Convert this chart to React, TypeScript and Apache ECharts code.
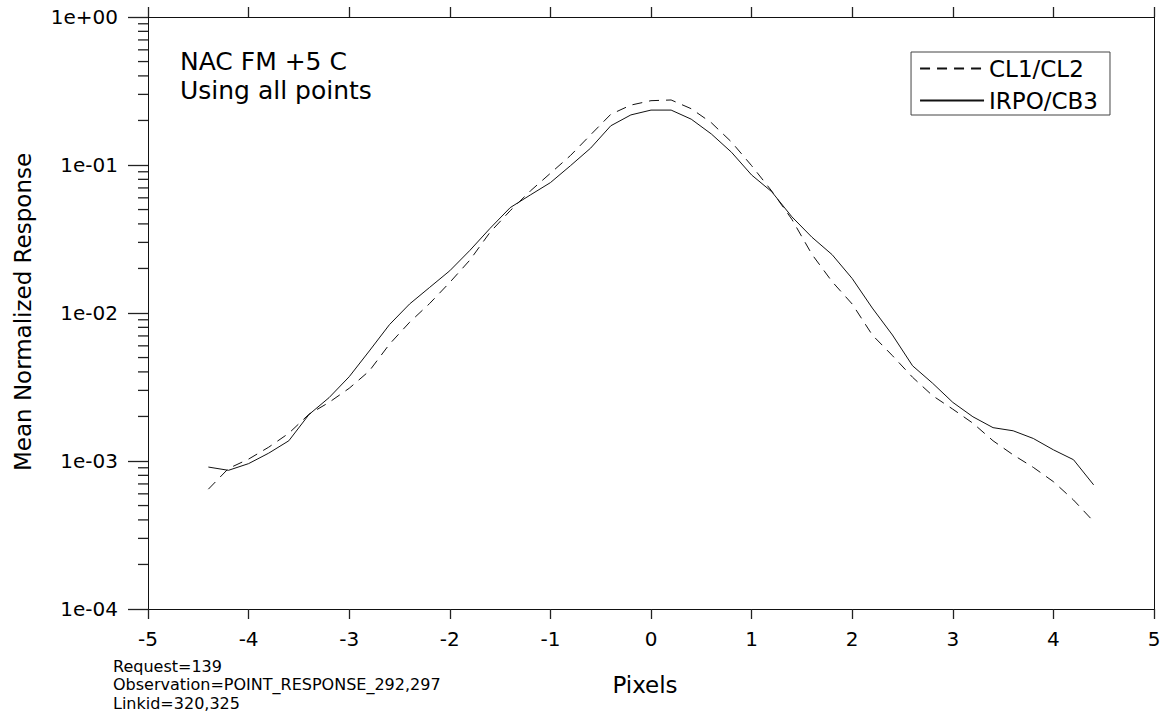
import React, { useEffect, useRef } from "react";
import * as echarts from "echarts";

const xValues = [
  -4.4, -4.2, -4.0, -3.8, -3.6, -3.4, -3.2, -3.0, -2.8, -2.6, -2.4, -2.2, -2.0,
  -1.8, -1.6, -1.4, -1.2, -1.0, -0.8, -0.6, -0.4, -0.2, 0.0, 0.2, 0.4, 0.6, 0.8,
  1.0, 1.2, 1.4, 1.6, 1.8, 2.0, 2.2, 2.4, 2.6, 2.8, 3.0, 3.2, 3.4, 3.6, 3.8, 4.0,
  4.2, 4.4,
];

const cl1Values = [
  0.000645, 0.00089, 0.00103, 0.00124, 0.00154, 0.00207, 0.00249, 0.0031,
  0.00406, 0.00615, 0.00865, 0.0116, 0.0161, 0.0228, 0.0351, 0.0491, 0.0667,
  0.0879, 0.116, 0.16, 0.22, 0.254, 0.272, 0.275, 0.24, 0.193, 0.143, 0.099,
  0.0667, 0.043, 0.0249, 0.0163, 0.0115, 0.0071, 0.00515, 0.00368, 0.00276,
  0.00224, 0.0018, 0.00137, 0.0011, 0.000906, 0.000725, 0.000545, 0.00039,
];

const irpoValues = [
  0.00091, 0.000865, 0.00096, 0.00113, 0.00137, 0.00206, 0.00268, 0.00371,
  0.00554, 0.00834, 0.0115, 0.0149, 0.0193, 0.0265, 0.0373, 0.0515, 0.0627,
  0.076, 0.099, 0.13, 0.184, 0.218, 0.235, 0.235, 0.204, 0.162, 0.122, 0.0856,
  0.066, 0.0447, 0.0325, 0.0248, 0.0171, 0.0108, 0.0071, 0.0044, 0.00335,
  0.00249, 0.00199, 0.00168, 0.0016, 0.00142, 0.00119, 0.00102, 0.00069,
];

const seriesNames = ["CL1/CL2", "IRPO/CB3"];
const yTickLabels = ["1e-04", "1e-03", "1e-02", "1e-01", "1e+00"];
const minorMultipliers = [2, 3, 4, 5, 6, 7, 8, 9];
const minorDecades = [1e-4, 1e-3, 1e-2, 1e-1];
const annotationLines = ["NAC FM +5 C", "Using all points"];
const footerLines = [
  "Request=139",
  "Observation=POINT_RESPONSE_292,297",
  "Linkid=320,325",
];
const xAxisTitle = "Pixels";
const yAxisTitle = "Mean Normalized Response";

const FONT = "'DejaVu Sans', sans-serif";
const INK = "#111";
const TICK_W = 1.3;

export default function App() {
  const ref = useRef<HTMLDivElement>(null);

  useEffect(() => {
    if (!ref.current) return;
    const chart = echarts.init(ref.current, undefined, { renderer: "svg" });

    const minorTickData: number[][] = [];
    minorDecades.forEach((d) =>
      minorMultipliers.forEach((m) => minorTickData.push([-5, m * d]))
    );

    const option: any = {
      animation: false,
      grid: { left: 148, top: 17, right: 12, bottom: 108 },
      xAxis: [
        {
          type: "value",
          min: -5,
          max: 5,
          interval: 1,
          position: "bottom",
          axisLine: { show: true, onZero: false, lineStyle: { color: INK, width: 1 } },
          axisTick: { show: true, length: 10, lineStyle: { color: "#222", width: TICK_W } },
          axisLabel: { fontFamily: FONT, fontSize: 20, color: "#000", margin: 20 },
          splitLine: { show: false },
        },
        {
          type: "value",
          min: -5,
          max: 5,
          interval: 1,
          position: "top",
          axisLine: { show: true, onZero: false, lineStyle: { color: INK, width: 1 } },
          axisTick: { show: true, length: 10, lineStyle: { color: "#222", width: TICK_W } },
          axisLabel: { show: false },
          splitLine: { show: false },
        },
      ],
      yAxis: [
        {
          type: "log",
          logBase: 10,
          min: 1e-4,
          max: 1,
          position: "left",
          axisLine: { show: true, onZero: false, lineStyle: { color: INK, width: 1 } },
          axisTick: { show: true, length: 20, lineStyle: { color: "#222", width: TICK_W } },
          axisLabel: {
            fontFamily: FONT,
            fontSize: 20,
            color: "#000",
            margin: 30,
            formatter: (v: number) => {
              const idx = Math.round(Math.log10(v)) + 4;
              return yTickLabels[idx] ?? "";
            },
          },
          splitLine: { show: false },
        },
        {
          type: "log",
          logBase: 10,
          min: 1e-4,
          max: 1,
          position: "right",
          axisLine: { show: true, onZero: false, lineStyle: { color: INK, width: 1 } },
          axisTick: { show: false },
          axisLabel: { show: false },
          splitLine: { show: false },
        },
      ],
      legend: {
        data: seriesNames,
        orient: "vertical",
        right: 56,
        top: 52,
        itemWidth: 64,
        itemHeight: 14,
        itemGap: 9,
        padding: [5, 12, 3, 8],
        borderColor: "#444",
        borderWidth: 1,
        itemStyle: { opacity: 0, borderWidth: 0 },
        textStyle: { fontFamily: FONT, fontSize: 23, color: "#000" },
      },
      series: [
        {
          name: seriesNames[0],
          type: "line",
          data: xValues.map((x, i) => [x, cl1Values[i]]),
          symbol: "none",
          showSymbol: false,
          lineStyle: { color: INK, width: 1, type: [10, 7] },
          itemStyle: { color: INK },
        },
        {
          name: seriesNames[1],
          type: "line",
          data: xValues.map((x, i) => [x, irpoValues[i]]),
          symbol: "none",
          showSymbol: false,
          lineStyle: { color: INK, width: 1, type: "solid" },
          itemStyle: { color: INK },
        },
        {
          type: "custom",
          clip: false,
          silent: true,
          data: minorTickData,
          renderItem: (params: any, api: any) => {
            const p = api.coord([api.value(0), api.value(1)]);
            return {
              type: "line",
              shape: { x1: p[0] - 10, y1: p[1], x2: p[0], y2: p[1] },
              style: { stroke: "#222", lineWidth: TICK_W },
            };
          },
        },
      ],
      graphic: [
        {
          type: "text",
          left: 180,
          top: 49,
          style: { text: annotationLines[0], fontFamily: FONT, fontSize: 25, fill: "#000" },
        },
        {
          type: "text",
          left: 180,
          top: 78,
          style: { text: annotationLines[1], fontFamily: FONT, fontSize: 25, fill: "#000" },
        },
        {
          type: "text",
          x: 645,
          y: 685,
          style: {
            text: xAxisTitle,
            fontFamily: FONT,
            fontSize: 23,
            fill: "#000",
            align: "center",
            verticalAlign: "middle",
          },
        },
        {
          type: "text",
          x: 23,
          y: 312,
          rotation: Math.PI / 2,
          style: {
            text: yAxisTitle,
            fontFamily: FONT,
            fontSize: 23,
            fill: "#000",
            align: "center",
            verticalAlign: "middle",
          },
        },
        ...footerLines.map((t, i) => ({
          type: "text",
          x: 113,
          y: 666 + i * 18.5,
          style: {
            text: t,
            fontFamily: FONT,
            fontSize: 16,
            fill: "#000",
            align: "left",
            verticalAlign: "middle",
          },
        })),
      ],
    };

    chart.setOption(option);
    return () => chart.dispose();
  }, []);

  return (
    <div
      ref={ref}
      style={{ position: "fixed", left: 0, top: 0, width: 1166, height: 717, background: "#fff" }}
    />
  );
}
